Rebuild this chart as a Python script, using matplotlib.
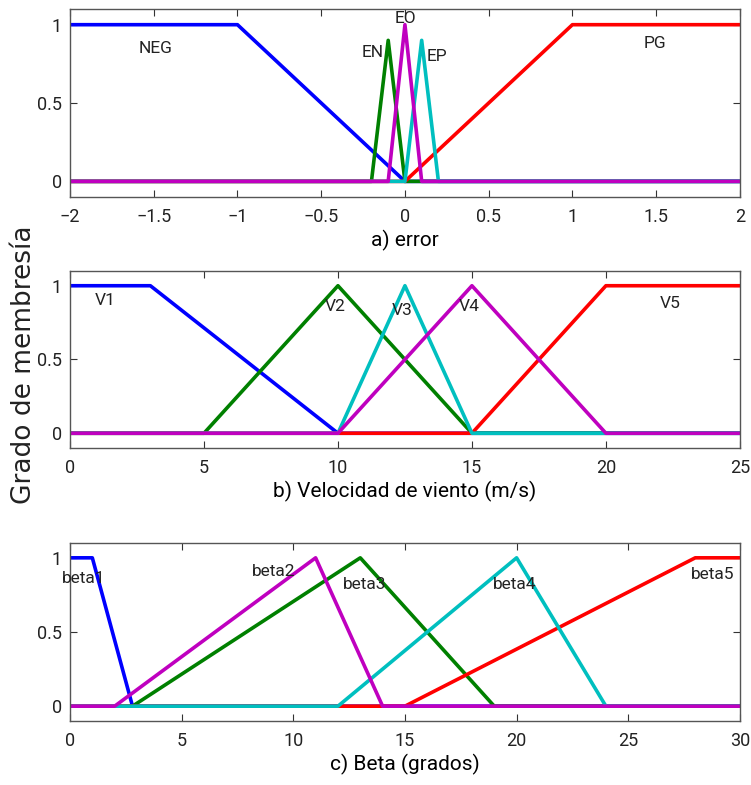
import numpy as np
import matplotlib
matplotlib.use("Agg")
import matplotlib.pyplot as plt

plt.rcParams['font.family'] = ['Roboto', 'DejaVu Sans']
plt.rcParams['font.size'] = 12

# ---- data: membership functions (breakpoints) ----
# a) error
err_neg_x = [-2, -1, 0, 2];            err_neg_y = [1, 1, 0, 0]
err_en_x = [-2, -0.2, -0.1, 0, 2];     err_en_y = [0, 0, 0.9, 0, 0]
err_eo_x = [-2, -0.1, 0, 0.1, 2];      err_eo_y = [0, 0, 1, 0, 0]
err_ep_x = [-2, 0, 0.1, 0.2, 2];       err_ep_y = [0, 0, 0.9, 0, 0]
err_pg_x = [-2, 0, 1, 2];              err_pg_y = [0, 0, 1, 1]

# b) velocidad de viento
v1_x = [0, 3, 10, 25];           v1_y = [1, 1, 0, 0]
v2_x = [0, 5, 10, 15, 25];       v2_y = [0, 0, 1, 0, 0]
v3_x = [0, 10, 12.5, 15, 25];    v3_y = [0, 0, 1, 0, 0]
v4_x = [0, 10, 15, 20, 25];      v4_y = [0, 0, 1, 0, 0]
v5_x = [0, 15, 20, 25];          v5_y = [0, 0, 1, 1]

# c) beta
b1_x = [0, 1, 2.8, 30];          b1_y = [1, 1, 0, 0]
b2_x = [0, 2, 11, 14, 30];       b2_y = [0, 0, 1, 0, 0]
b3_x = [0, 2.8, 13, 19, 30];     b3_y = [0, 0, 1, 0, 0]
b4_x = [0, 12, 20, 24, 30];      b4_y = [0, 0, 1, 0, 0]
b5_x = [0, 15, 28, 30];          b5_y = [0, 0, 1, 1]

err_labels = ['NEG', 'EN', 'EO', 'EP', 'PG']
err_label_pos = [(-1.49, 0.85), (-0.19, 0.82), (0.0, 1.04), (0.19, 0.80), (1.49, 0.88)]
v_labels = ['V1', 'V2', 'V3', 'V4', 'V5']
v_label_pos = [(1.3, 0.90), (9.9, 0.86), (12.4, 0.83), (14.9, 0.86), (22.4, 0.88)]
b_labels = ['beta1', 'beta2', 'beta3', 'beta4', 'beta5']
b_label_pos = [(0.6, 0.86), (9.1, 0.91), (13.2, 0.82), (19.9, 0.82), (28.8, 0.89)]

BLUE = (0, 0, 1)
GREEN = (0, 0.5, 0)
RED = (1, 0, 0)
CYAN = (0, 0.75, 0.75)
MAG = (0.75, 0, 0.75)
LW = 2.6
TXT = dict(ha='center', va='center', fontsize=12.5, color='#222222')

fig = plt.figure(figsize=(7.51, 7.85), dpi=100)

ax1 = fig.add_axes([0.0932, 0.749, 0.892, 0.2395])
ax2 = fig.add_axes([0.0932, 0.4293, 0.892, 0.2255])
ax3 = fig.add_axes([0.0932, 0.0815, 0.892, 0.2268])

        # (a) ##############################
# drawing order: blue, green, red, cyan, magenta (magenta on top)
ax1.plot(err_neg_x, err_neg_y, color=BLUE, lw=LW)
ax1.plot(err_en_x, err_en_y, color=GREEN, lw=LW)
ax1.plot(err_pg_x, err_pg_y, color=RED, lw=LW)
ax1.plot(err_ep_x, err_ep_y, color=CYAN, lw=LW)
ax1.plot(err_eo_x, err_eo_y, color=MAG, lw=LW)
for lab, (px, py) in zip(err_labels, err_label_pos):
    ax1.text(px, py, lab, **TXT)
ax1.set_xlim(-2, 2)
ax1.set_xticks(np.arange(-2, 2.01, 0.5))
ax1.set_xticklabels(['\u22122', '\u22121.5', '\u22121', '\u22120.5', '0', '0.5', '1', '1.5', '2'])
ax1.set_xlabel('a) error', fontsize=15, labelpad=3)

        # (b) ##############################
ax2.plot(v1_x, v1_y, color=BLUE, lw=LW)
ax2.plot(v2_x, v2_y, color=GREEN, lw=LW)
ax2.plot(v5_x, v5_y, color=RED, lw=LW)
ax2.plot(v3_x, v3_y, color=CYAN, lw=LW)
ax2.plot(v4_x, v4_y, color=MAG, lw=LW)
for lab, (px, py) in zip(v_labels, v_label_pos):
    ax2.text(px, py, lab, **TXT)
ax2.set_xlim(0, 25)
ax2.set_xticks(np.arange(0, 26, 5))
ax2.set_xlabel('b) Velocidad de viento (m/s)', fontsize=15, labelpad=3)

        # (c) ##############################
ax3.plot(b1_x, b1_y, color=BLUE, lw=LW)
ax3.plot(b3_x, b3_y, color=GREEN, lw=LW)
ax3.plot(b5_x, b5_y, color=RED, lw=LW)
ax3.plot(b4_x, b4_y, color=CYAN, lw=LW)
ax3.plot(b2_x, b2_y, color=MAG, lw=LW)
for lab, (px, py) in zip(b_labels, b_label_pos):
    ax3.text(px, py, lab, **TXT)
ax3.set_xlim(0, 30)
ax3.set_xticks(np.arange(0, 31, 5))
ax3.set_xlabel('c) Beta (grados)', fontsize=15, labelpad=3)

for ax in (ax1, ax2, ax3):
    ax.set_ylim(-0.1, 1.1)
    ax.set_yticks([0, 0.5, 1])
    ax.set_yticklabels(['0', '0.5', '1'])
    ax.tick_params(direction='in', top=True, right=True, length=5,
                   labelsize=13, colors='#333333', labelcolor='#222222')
    ax.tick_params(axis='x', pad=8)
    ax.tick_params(axis='y', pad=6)
    for sp in ax.spines.values():
        sp.set_color('#555555')
        sp.set_linewidth(1.0)

fig.text(0.032, 0.535, 'Grado de membresía', rotation=90, ha='center', va='center',
         fontsize=19, color='#222222', family='DejaVu Sans')

plt.savefig('out.png', dpi=100)
